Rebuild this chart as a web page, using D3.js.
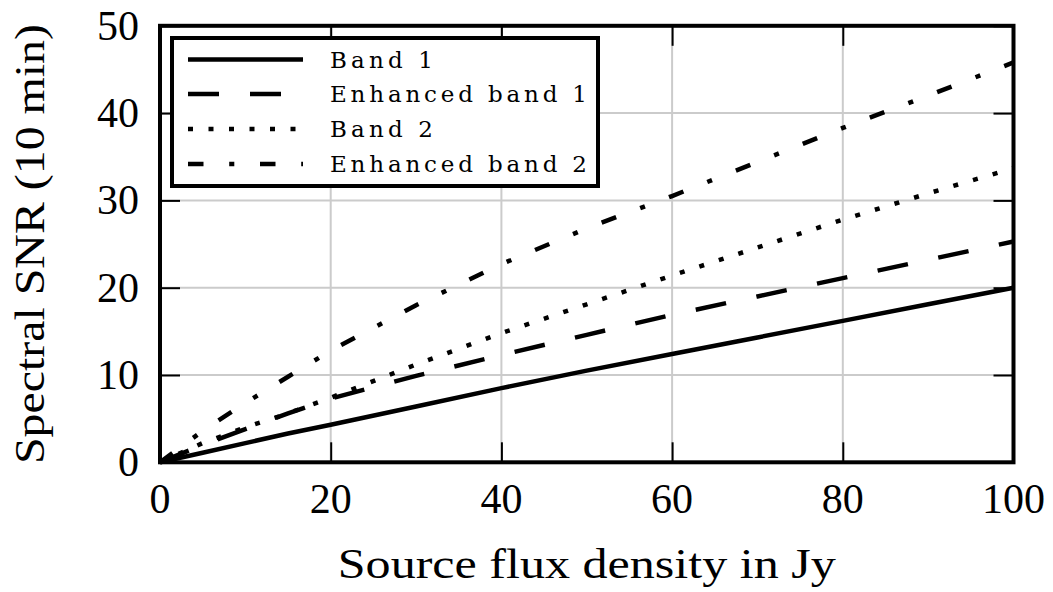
<!DOCTYPE html>
<html>
<head>
<meta charset="utf-8">
<script src="https://cdn.jsdelivr.net/npm/d3@7"></script>
<style>
html,body{margin:0;padding:0;background:#fff;}
svg{display:block;}
text{font-family:"Liberation Serif","DejaVu Serif",serif;fill:#000;}
text.legtxt{font-family:"DejaVu Serif","Liberation Serif",serif;}
</style>
</head>
<body>
<svg id="chart" width="1053" height="592"></svg>
<script>
// ---- data ----
const flux = [0, 5, 10, 15, 20, 30, 40, 50, 60, 70, 80, 90, 100];
const band1 = [0, 1.1, 2.2, 3.3, 4.3, 6.4, 8.5, 10.5, 12.4, 14.3, 16.2, 18.1, 20.0];
const enhancedBand1 = [0, 2.0, 3.8, 5.6, 7.3, 9.9, 12.3, 14.6, 16.9, 19.0, 21.1, 23.2, 25.3];
const band2 = [0, 2.2, 4.0, 5.6, 7.4, 11.2, 14.8, 18.1, 21.4, 24.6, 27.8, 30.8, 33.7];
const enhancedBand2 = [0, 3.6, 6.8, 9.8, 12.8, 18.0, 22.7, 26.8, 30.5, 34.4, 38.3, 42.0, 45.8];
const seriesNames = ["Band 1", "Enhanced band 1", "Band 2", "Enhanced band 2"];
const xTicks = [0, 20, 40, 60, 80, 100];
const yTicks = [0, 10, 20, 30, 40, 50];
const xLabel = "Source flux density in Jy";
const yLabel = "Spectral SNR (10 min)";

const seriesValues = [band1, enhancedBand1, band2, enhancedBand2];
const dashes = [null, "31,31", "5,15.5", "15.5,25.7,5.1,25.7"];

const svg = d3.select("#chart");
const L = 160, R = 1013.5, T = 25.8, B = 462.3;
const x = d3.scaleLinear().domain([0, 100]).range([L, R]);
const y = d3.scaleLinear().domain([0, 50]).range([B, T]);

// grid
const g = svg.append("g");
g.selectAll("line.gx").data(xTicks.slice(1, -1)).enter().append("line")
  .attr("x1", d => x(d)).attr("x2", d => x(d)).attr("y1", T).attr("y2", B)
  .attr("stroke", "#cbcbcb").attr("stroke-width", 2);
g.selectAll("line.gy").data(yTicks.slice(1, -1)).enter().append("line")
  .attr("y1", d => y(d)).attr("y2", d => y(d)).attr("x1", L).attr("x2", R)
  .attr("stroke", "#cbcbcb").attr("stroke-width", 2);

// inward ticks on all sides
const tl = 20;
const axB = d3.axisTop(x).tickValues(xTicks).tickSize(tl).tickFormat("");
const axT = d3.axisBottom(x).tickValues(xTicks).tickSize(tl).tickFormat("");
const axL = d3.axisRight(y).tickValues(yTicks).tickSize(tl).tickFormat("");
const axR = d3.axisLeft(y).tickValues(yTicks).tickSize(tl).tickFormat("");
[[axB, `translate(0,${B})`], [axT, `translate(0,${T})`], [axL, `translate(${L},0)`], [axR, `translate(${R},0)`]].forEach(([ax, tr]) => {
  const a = svg.append("g").attr("transform", tr).call(ax);
  a.select(".domain").remove();
  a.selectAll("line").attr("stroke", "#000").attr("stroke-width", 2);
});

// tick labels
svg.append("g").selectAll("text").data(xTicks).enter().append("text")
  .attr("x", d => x(d)).attr("y", 513).attr("text-anchor", "middle")
  .attr("font-size", 42).text(d => d);
svg.append("g").selectAll("text").data(yTicks).enter().append("text")
  .attr("x", 139).attr("y", d => y(d) + 14).attr("text-anchor", "end")
  .attr("font-size", 42).text(d => d);

// axis labels
svg.append("text").attr("x", (L + R) / 2).attr("y", 578).attr("text-anchor", "middle")
  .attr("font-size", 42).attr("textLength", 498).attr("lengthAdjust", "spacingAndGlyphs").text(xLabel);
svg.append("text").attr("transform", `translate(44,${(T + B) / 2}) rotate(-90)`)
  .attr("text-anchor", "middle").attr("font-size", 42)
  .attr("textLength", 440).attr("lengthAdjust", "spacingAndGlyphs").text(yLabel);

// lines
const line = d3.line().x((d, i) => x(flux[i])).y(d => y(d));
const lg = svg.append("g");
seriesValues.forEach((vals, i) => {
  lg.append("path").datum(vals).attr("d", line)
    .attr("fill", "none").attr("stroke", "#000").attr("stroke-width", 4.5)
    .attr("stroke-dasharray", dashes[i]);
});

// frame
svg.append("rect").attr("x", L).attr("y", T).attr("width", R - L).attr("height", B - T)
  .attr("fill", "none").attr("stroke", "#000").attr("stroke-width", 4);

// legend
const leg = svg.append("g");
leg.append("rect").attr("x", 172).attr("y", 38).attr("width", 426).attr("height", 148)
  .attr("fill", "#fff").attr("stroke", "#000").attr("stroke-width", 4);
const rowY = [59.5, 94, 129, 164];
seriesNames.forEach((name, i) => {
  leg.append("line").attr("x1", 188).attr("x2", 303).attr("y1", rowY[i]).attr("y2", rowY[i])
    .attr("stroke", "#000").attr("stroke-width", 4.5).attr("stroke-dasharray", dashes[i]);
  const widths = [103, 257, 103, 257];
  leg.append("text").attr("class", "legtxt").attr("x", 330).attr("y", rowY[i] + 8)
    .attr("font-size", 23)
    .attr("textLength", widths[i]).attr("lengthAdjust", "spacing").text(name);
});
</script>
</body>
</html>
